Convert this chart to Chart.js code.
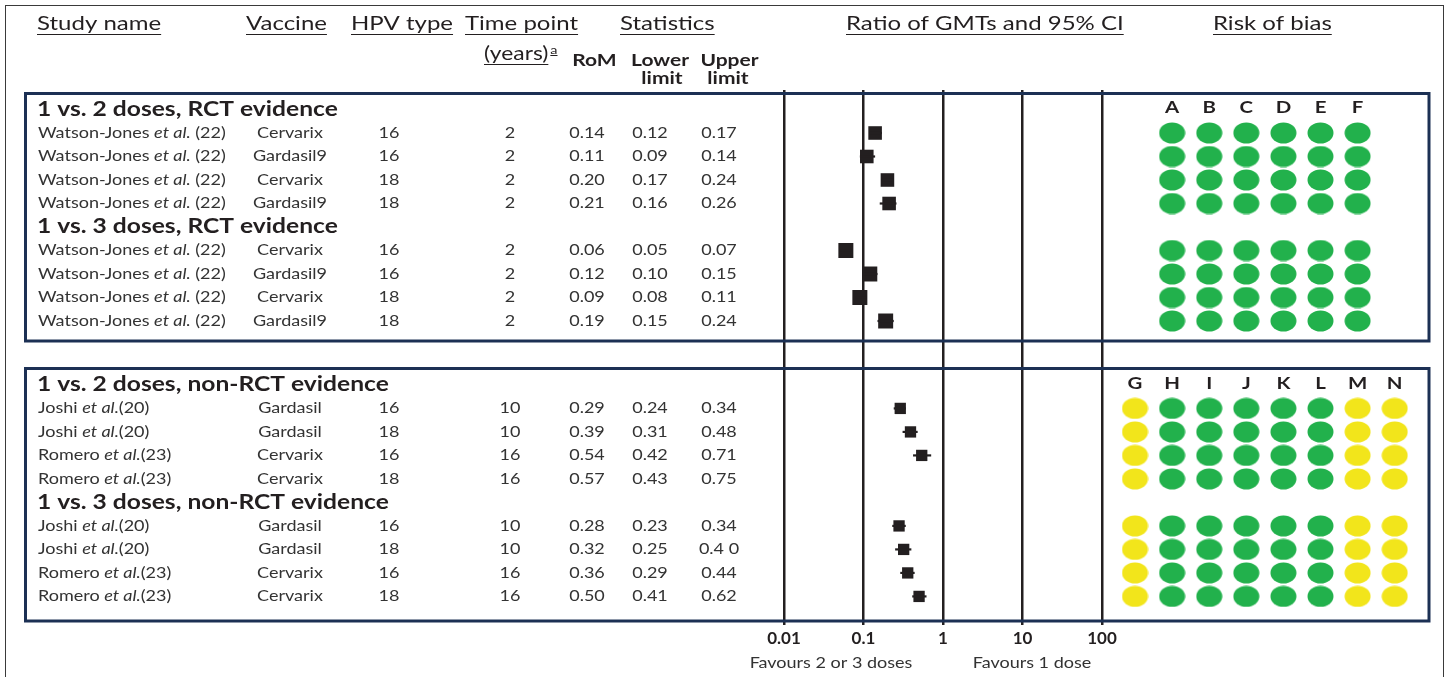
<!DOCTYPE html>
<html><head><meta charset="utf-8">
<script src="https://cdn.jsdelivr.net/npm/chart.js@4.4.1/dist/chart.umd.min.js"></script>
<style>html,body{margin:0;padding:0;background:#fff;overflow:hidden}#wrap{width:1449px;height:677px;position:relative}</style>
</head><body><div id="wrap"><canvas id="c" width="1449" height="677"></canvas></div>
<script>
// ---------------- DATA ----------------
const groupTitles = ['1 vs. 2 doses, RCT evidence', '1 vs. 3 doses, RCT evidence',
                     '1 vs. 2 doses, non-RCT evidence', '1 vs. 3 doses, non-RCT evidence'];
const rowGroup = [0,0,0,0, 1,1,1,1, 2,2,2,2, 3,3,3,3];
const authors = ['Watson-Jones','Watson-Jones','Watson-Jones','Watson-Jones',
                 'Watson-Jones','Watson-Jones','Watson-Jones','Watson-Jones',
                 'Joshi','Joshi','Romero','Romero',
                 'Joshi','Joshi','Romero','Romero'];
const refs = [' (22)',' (22)',' (22)',' (22)',' (22)',' (22)',' (22)',' (22)',
              '(20)','(20)','(23)','(23)','(20)','(20)','(23)','(23)'];
const vaccines = ['Cervarix','Gardasil9','Cervarix','Gardasil9',
                  'Cervarix','Gardasil9','Cervarix','Gardasil9',
                  'Gardasil','Gardasil','Cervarix','Cervarix',
                  'Gardasil','Gardasil','Cervarix','Cervarix'];
const hpvTypes = ['16','16','18','18','16','16','18','18','16','18','16','18','16','18','16','18'];
const timePoints = ['2','2','2','2','2','2','2','2','10','10','16','16','10','10','16','16'];
const romValues   = ['0.14','0.11','0.20','0.21','0.06','0.12','0.09','0.19',
                     '0.29','0.39','0.54','0.57','0.28','0.32','0.36','0.50'];
const lowerValues = ['0.12','0.09','0.17','0.16','0.05','0.10','0.08','0.15',
                     '0.24','0.31','0.42','0.43','0.23','0.25','0.29','0.41'];
const upperValues = ['0.17','0.14','0.24','0.26','0.07','0.15','0.11','0.24',
                     '0.34','0.48','0.71','0.75','0.34','0.4 0','0.44','0.62'];
// the reference shows no marker for Romero 18 (1 vs. 2 doses, non-RCT)
const plotted = [true,true,true,true,true,true,true,true,
                 true,true,true,false,true,true,true,true];
const tickValues = [0.01, 0.1, 1, 10, 100];
const tickLabels = ['0.01', '0.1', '1', '10', '100'];
const robDomainsRCT = ['A','B','C','D','E','F'];
const robDomainsNonRCT = ['G','H','I','J','K','L','M','N'];
const robRCT = ['low','low','low','low','low','low'];                 // all RCT rows
const robNonRCT = ['some','low','low','low','low','low','some','some']; // all non-RCT rows

// ---------------- LAYOUT ----------------
const W = 1449, H = 677;
const PLOT_TOP = 90, PLOT_BOTTOM = 625;
const ROW0 = 109.5, ROWSTEP = 23.5;
const X_001 = 784, DECADE = 79.5;
const ROB_X0 = 1135, ROB_STEP = 37.1;
const panelOffset = [0, 11.72];
const SX = 1.2; // horizontal stretch of the reference typography
const FONT = 'Lato, "Open Sans", sans-serif';
const INK = '#231f20', TXT = '#333333', NAVY = '#1c3054';
const GREEN = '#22b14c', YELLOW = '#f2e51b';

const groupSlot = [], rowSlot = [];
{
  let s = 0;
  rowGroup.forEach((g, i) => {
    if (i === 0 || rowGroup[i-1] !== g) {
      if (g === 2) s = panelOffset[1];
      groupSlot[g] = s; s += 1;
    }
    rowSlot[i] = s; s += 1;
  });
}
const num = s => parseFloat(s.replace(/\s/g, ''));

function ellipseImg(color) {
  const c = document.createElement('canvas');
  c.width = 27; c.height = 22;
  const x = c.getContext('2d');
  x.fillStyle = color;
  x.beginPath(); x.ellipse(13.5, 11, 13, 10.5, 0, 0, Math.PI * 2); x.fill();
  return c;
}
const IMG = { low: ellipseImg(GREEN), some: ellipseImg(YELLOW) };

// ---------------- DATASETS ----------------
const datasets = [];
rowSlot.forEach((slot, i) => {
  if (!plotted[i]) return;
  datasets.push({
    type: 'line', data: [{x: num(lowerValues[i]), y: slot}, {x: num(upperValues[i]), y: slot}],
    borderColor: INK, borderWidth: 2.2, pointRadius: 0, xAxisID: 'x', yAxisID: 'y'
  });
});
const sqData = [], sqRadius = [];
rowSlot.forEach((slot, i) => {
  if (!plotted[i]) return;
  sqData.push({x: num(romValues[i]), y: slot});
  sqRadius.push(rowGroup[i] === 0 ? 9.6 : rowGroup[i] === 1 ? 10.6 : 8.0);
});
datasets.push({ type: 'scatter', data: sqData, pointStyle: 'rect', pointRadius: sqRadius,
  backgroundColor: INK, borderColor: INK, borderWidth: 0, xAxisID: 'x', yAxisID: 'y' });

const robData = [], robStyle = [];
rowSlot.forEach((slot, i) => {
  const rct = rowGroup[i] < 2;
  const judg = rct ? robRCT : robNonRCT;
  judg.forEach((j, d) => {
    robData.push({x: rct ? d + 1 : d, y: slot});
    robStyle.push(IMG[j]);
  });
});
datasets.push({ type: 'scatter', data: robData, pointStyle: robStyle, pointRadius: 11,
  xAxisID: 'rob', yAxisID: 'y' });

// ---------------- DRAWING PLUGIN ----------------
function txt(ctx, s, x, y, font, align, color, sx) {
  sx = sx || SX;
  ctx.save();
  ctx.font = font; ctx.textAlign = align || 'left'; ctx.textBaseline = 'middle';
  ctx.fillStyle = color || TXT;
  ctx.translate(x, y); ctx.scale(sx, 1); ctx.fillText(s, 0, 0);
  const w = ctx.measureText(s).width * sx;
  ctx.restore();
  return w;
}
function under(ctx, s, x, y, font, align) {
  const w = txt(ctx, s, x, y, font, align, INK);
  const x0 = align === 'center' ? x - w / 2 : x;
  ctx.strokeStyle = INK; ctx.lineWidth = 1;
  const uy = Math.round(y + 10) + 0.5;
  ctx.beginPath(); ctx.moveTo(x0, uy); ctx.lineTo(x0 + w, uy); ctx.stroke();
  return w;
}
const layoutPlugin = {
  id: 'layoutPlugin',
  beforeDraw(chart) {
    const ctx = chart.ctx;
    ctx.save(); ctx.fillStyle = '#fff'; ctx.fillRect(0, 0, W, H); ctx.restore();
  },
  afterDraw(chart) {
    const ctx = chart.ctx, y = chart.scales.y, rob = chart.scales.rob;
    ctx.save();
    ctx.strokeStyle = '#3a3a3a'; ctx.lineWidth = 1;
    ctx.strokeRect(5.5, 5.5, 1438, 700);
    ctx.strokeStyle = NAVY; ctx.lineWidth = 3;
    ctx.strokeRect(25.5, 93.5, 1403.5, 247.5);
    ctx.strokeRect(25.5, 368.5, 1403.5, 252.5);
    const HF = '20px ' + FONT;
    under(ctx, 'Study name', 37, 24, HF);
    under(ctx, 'Vaccine', 246, 24, HF);
    under(ctx, 'HPV type', 351, 24, HF);
    under(ctx, 'Time point', 465, 24, HF);
    under(ctx, 'Statistics', 620, 24, HF);
    under(ctx, 'Ratio of GMTs and 95% CI', 846, 24, HF);
    under(ctx, 'Risk of bias', 1213, 24, HF);
    const wy = under(ctx, '(years)', 484, 54, '19px ' + FONT);
    const wa = txt(ctx, 'a', 484 + wy + 2, 50, '12px ' + FONT, 'left', INK);
    ctx.beginPath(); ctx.moveTo(484 + wy + 2, 55.5); ctx.lineTo(484 + wy + 2 + wa, 55.5); ctx.stroke();
    const BF = 'bold 17.5px ' + FONT;
    txt(ctx, 'RoM', 594.5, 60, BF, 'center', INK);
    txt(ctx, 'Lower', 660, 60, BF, 'center', INK);
    txt(ctx, 'limit', 662, 78, BF, 'center', INK);
    txt(ctx, 'Upper', 729.5, 60, BF, 'center', INK);
    txt(ctx, 'limit', 728, 78, BF, 'center', INK);
    groupTitles.forEach((g, k) => txt(ctx, g, 37, y.getPixelForValue(groupSlot[k]), 'bold 20px ' + FONT, 'left', INK, 1.23));
    const RF = '15px ' + FONT, IF = 'italic 15px ' + FONT;
    rowSlot.forEach((slot, i) => {
      const py = y.getPixelForValue(slot);
      let x = 38;
      x += txt(ctx, authors[i] + ' ', x, py, RF);
      x += txt(ctx, 'et al.', x, py, IF);
      txt(ctx, refs[i], x, py, RF);
      txt(ctx, vaccines[i], 290, py, RF, 'center');
      txt(ctx, hpvTypes[i], 389, py, RF, 'center');
      txt(ctx, timePoints[i], 510, py, RF, 'center');
      txt(ctx, romValues[i], 587, py, RF, 'center');
      txt(ctx, lowerValues[i], 650, py, RF, 'center');
      txt(ctx, upperValues[i], 719, py, RF, 'center');
    });
    const LF = 'bold 17px ' + FONT;
    robDomainsRCT.forEach((d, k) => txt(ctx, d, rob.getPixelForValue(k + 1), y.getPixelForValue(groupSlot[0]) - 2, LF, 'center', INK));
    robDomainsNonRCT.forEach((d, k) => txt(ctx, d, rob.getPixelForValue(k), y.getPixelForValue(groupSlot[2]) - 1, LF, 'center', INK));
    txt(ctx, 'Favours 2 or 3 doses', 831, 663, '15px ' + FONT, 'center');
    txt(ctx, 'Favours 1 dose', 1032, 663, '15px ' + FONT, 'center');
    ctx.restore();
  }
};

const yMin = (PLOT_TOP - ROW0) / ROWSTEP, yMax = (PLOT_BOTTOM - ROW0) / ROWSTEP;
const xMin = Math.pow(10, -2 - X_001 / DECADE), xMax = Math.pow(10, -2 + (W - X_001) / DECADE);
const noPad = s => { s.paddingLeft = 0; s.paddingRight = 0; s.paddingTop = 0; s.paddingBottom = 0; };

new Chart(document.getElementById('c'), {
  type: 'scatter',
  data: { datasets },
  options: {
    responsive: false, animation: false, events: [],
    layout: { autoPadding: false, padding: { top: PLOT_TOP, bottom: H - PLOT_BOTTOM - 25, left: 0, right: 0 } },
    plugins: { legend: { display: false }, tooltip: { enabled: false } },
    scales: {
      x: {
        type: 'logarithmic', position: 'bottom', min: xMin, max: xMax,
        afterBuildTicks: s => { s.ticks = tickValues.map(v => ({ value: v })); },
        afterFit: s => { s.height = 25; noPad(s); },
        grid: { color: INK, lineWidth: 2.5, drawTicks: false },
        border: { display: false },
        ticks: { autoSkip: false, maxRotation: 0, padding: 3, color: INK,
                 font: { family: 'Lato', size: 17, weight: 'bold' },
                 callback: (v, i) => tickLabels[i] }
      },
      rob: { type: 'linear', display: false, position: 'bottom',
             min: -ROB_X0 / ROB_STEP, max: (W - ROB_X0) / ROB_STEP,
             ticks: { display: false }, afterFit: noPad },
      y: { type: 'linear', display: false, reverse: true, min: yMin, max: yMax,
           ticks: { display: false }, afterFit: noPad }
    }
  },
  plugins: [layoutPlugin]
});
</script></body></html>
